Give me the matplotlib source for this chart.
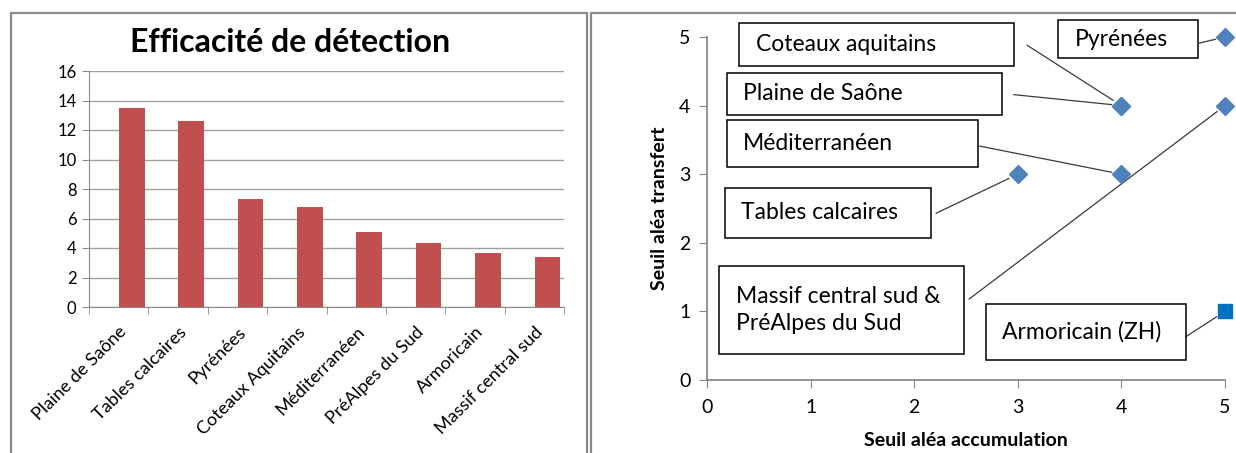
import numpy as np
import matplotlib
matplotlib.use("Agg")
import matplotlib.pyplot as plt
from matplotlib.patches import Rectangle

plt.rcParams['font.family'] = ['Lato', 'DejaVu Sans']

# left chart data
regions = ['Plaine de Saône', 'Tables calcaires', 'Pyrénées', 'Coteaux Aquitains',
           'Méditerranéen', 'PréAlpes du Sud', 'Armoricain', 'Massif central sud']
efficacite = [13.47, 12.63, 7.32, 6.80, 5.08, 4.36, 3.66, 3.41]

# right chart data
pt_labels = ['Pyrénées', 'Coteaux aquitains', 'Plaine de Saône',
             'Massif central sud &\nPréAlpes du Sud', 'Méditerranéen', 'Tables calcaires']
seuil_accu = [5, 4, 4, 5, 4, 3]
seuil_transfert = [5, 4, 4, 4, 3, 3]
zh_label = 'Armoricain (ZH)'
zh_accu = [5]
zh_transfert = [1]

# label boxes (data coords): x0, x1, y0, y1, leader start
boxes = {
    'Pyrénées': (3.39, 4.74, 4.69, 5.25, (4.75, 4.91)),
    'Coteaux aquitains': (0.31, 2.96, 4.58, 5.20, (3.09, 4.88)),
    'Plaine de Saône': (0.19, 2.85, 3.86, 4.48, (2.96, 4.16)),
    'Massif central sud &\nPréAlpes du Sud': (0.12, 2.48, 0.38, 1.66, (2.53, 1.18)),
    'Méditerranéen': (0.19, 2.62, 3.10, 3.79, (2.63, 3.41)),
    'Tables calcaires': (0.17, 2.16, 2.07, 2.80, (2.21, 2.43)),
    'Armoricain (ZH)': (2.69, 4.62, 0.29, 1.11, (4.62, 0.63)),
}

W, H = 1236, 453
fig = plt.figure(figsize=(W / 100, H / 100), dpi=100)

# panel frames
fig.add_artist(Rectangle((11 / W, -0.05), 576 / W, 1 - 13 / H + 0.05, transform=fig.transFigure,
                         fill=False, ec='#8a8a8a', lw=1.6))
fig.add_artist(Rectangle((591 / W, -0.05), 0.6, 1 - 13 / H + 0.05, transform=fig.transFigure,
                         fill=False, ec='#8a8a8a', lw=1.6))

# ---- left: bar chart
ax1 = fig.add_axes([89 / W, 1 - 307 / H, 475 / W, 236 / H])
xc = np.arange(len(regions))
ax1.bar(xc + 0.22, efficacite, width=0.43, color='#C0504D', zorder=3)
ax1.set_xlim(-0.5, len(regions) - 0.5)
ax1.set_ylim(0, 16)
ax1.set_yticks(np.arange(0, 17, 2))
ax1.yaxis.grid(True, color='#a0a0a0', lw=1)
ax1.set_axisbelow(True)
ax1.set_xticks(xc)
ax1.set_xticklabels(regions, rotation=45, ha='right', rotation_mode='anchor', fontsize=13)
ax1.set_xticks(np.arange(-0.5, len(regions)), minor=True)
ax1.tick_params(axis='x', which='major', length=0, pad=12)
ax1.tick_params(axis='x', which='minor', length=5, color='#8a8a8a', direction='out')
ax1.tick_params(axis='y', length=5, color='#8a8a8a', labelsize=12, pad=4)
for s in ['top', 'right']:
    ax1.spines[s].set_visible(False)
for s in ['left', 'bottom']:
    ax1.spines[s].set_color('#8a8a8a')
fig.text(290 / W, 1 - 42 / H, 'Efficacité de détection', ha='center', va='center',
         fontsize=23, fontweight='bold')

# ---- right: scatter
ax2 = fig.add_axes([707 / W, 1 - 380 / H, 518 / W, 343 / H])
ax2.set_xlim(0, 5)
ax2.set_ylim(0, 5)
ax2.set_xticks(range(6))
ax2.set_yticks(range(6))
ax2.tick_params(length=6, color='#8a8a8a', labelsize=14, direction='out')
ax2.tick_params(axis='x', pad=8)
ax2.tick_params(axis='y', pad=6)
for s in ['top', 'right']:
    ax2.spines[s].set_visible(False)
for s in ['left', 'bottom']:
    ax2.spines[s].set_color('#8a8a8a')
    ax2.spines[s].set_linewidth(1.3)
ax2.set_xlabel('Seuil aléa accumulation', fontsize=14, fontweight='bold', labelpad=11)
ax2.set_ylabel('Seuil aléa transfert', fontsize=14, fontweight='bold', labelpad=8)

ax2.plot(seuil_accu, seuil_transfert, 'D', color='#4F81BD', ms=9, ls='none',
         clip_on=False, zorder=5)
ax2.plot(zh_accu, zh_transfert, 's', color='#0070C0', ms=10.5, ls='none',
         clip_on=False, zorder=5)

pts = list(zip(pt_labels, seuil_accu, seuil_transfert)) + [(zh_label, zh_accu[0], zh_transfert[0])]
for lab, px, py in pts:
    x0, x1, y0, y1, start = boxes[lab]
    ax2.add_patch(Rectangle((x0, y0), x1 - x0, y1 - y0, fill=False, ec='black', lw=1.1,
                            clip_on=False, zorder=4))
    ax2.text(x0 + 0.16, (y0 + y1) / 2, lab, ha='left', va='center', fontsize=16.5,
             linespacing=1.3, zorder=4, clip_on=False)
    ax2.annotate('', xy=(px, py), xytext=start,
                 arrowprops=dict(arrowstyle='-', color='#3a3a3a', lw=0.9,
                                 shrinkA=0, shrinkB=7),
                 annotation_clip=False)

fig.savefig('out.png', dpi=100)
